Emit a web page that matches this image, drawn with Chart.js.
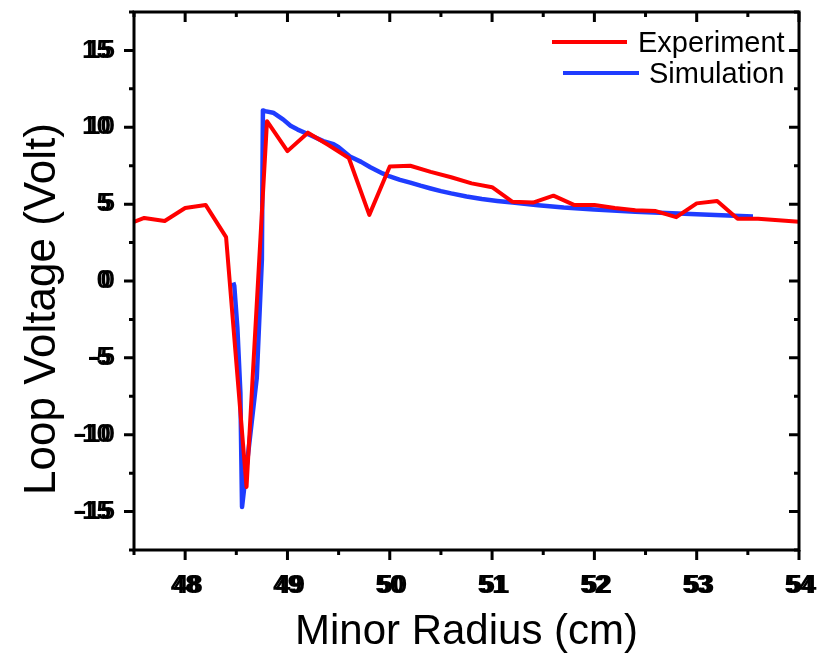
<!DOCTYPE html>
<html>
<head>
<meta charset="utf-8">
<script src="https://cdn.jsdelivr.net/npm/chart.js@4.4.0/dist/chart.umd.min.js"></script>
<style>html,body{margin:0;padding:0;background:#fff}</style>
</head>
<body>
<canvas id="loopChart" width="822" height="658"></canvas>
<script>
// values
const expRadius = [47.5, 47.6, 47.8, 48.0, 48.2, 48.4, 48.6, 48.8, 49.0, 49.2, 49.4, 49.6, 49.8, 50.0, 50.2, 50.4, 50.6, 50.8,
                   51.0, 51.2, 51.4, 51.6, 51.8, 52.0, 52.2, 52.4, 52.6, 52.8, 53.0, 53.2, 53.4, 53.6, 53.8, 54.0];
const expVoltage = [3.85, 4.1, 3.9, 4.75, 4.95, 2.85, -13.4, 10.4, 8.45, 9.65, 8.85, 8.0, 4.3, 7.45, 7.5, 7.1, 6.75, 6.35,
                    6.1, 5.15, 5.1, 5.55, 4.95, 4.95, 4.75, 4.6, 4.55, 4.15, 5.05, 5.2, 4.05, 4.05, 3.95, 3.85];

const simRadius = [48.47, 48.48, 48.51, 48.54, 48.556, 48.70, 48.75, 48.76, 48.78, 48.86, 48.96, 49.03, 49.10, 49.22,
                   49.35, 49.45, 49.50, 49.61, 49.72, 49.81, 49.93, 50.0, 50.1, 50.2, 50.3, 50.4, 50.5, 50.6, 50.75, 50.9,
                   51.05, 51.2, 51.45, 51.7, 52.0, 52.4, 53.0, 53.55];
const simVoltage = [-0.1, -0.3, -3.0, -7.3, -14.7, -6.3, 1.4, 11.1, 11.05, 10.95, 10.5, 10.1, 9.85, 9.5,
                    9.1, 8.9, 8.7, 8.1, 7.75, 7.4, 7.0, 6.8, 6.58, 6.4, 6.2, 6.02, 5.85, 5.7, 5.5, 5.34,
                    5.21, 5.1, 4.93, 4.78, 4.65, 4.5, 4.35, 4.2];

const xTicks = [48, 49, 50, 51, 52, 53, 54];
const yTicks = [-15, -10, -5, 0, 5, 10, 15];
const seriesNames = ['Experiment', 'Simulation'];
const seriesColors = ['#ff0000', '#1f3cff'];

const tickFont = {family: "'Liberation Sans', Arial, sans-serif", size: 26, weight: 'bold'};

function toPoints(xs, ys) {
    return xs.map((x, i) => ({x: x, y: ys[i]}));
}

function noPad(s) {
    s.paddingTop = 0; s.paddingBottom = 0; s.paddingLeft = 0; s.paddingRight = 0;
}

// origin-style box: thick frame, outward ticks left/bottom, inward ticks top/right, doubled tick labels
const framePlugin = {
    id: 'frame',
    afterDatasetsDraw(chart) {
        const ctx = chart.ctx;
        const a = chart.chartArea;
        const xs = chart.scales.x, ys = chart.scales.y;
        ctx.save();
        ctx.strokeStyle = '#000';
        ctx.lineWidth = 3;
        ctx.strokeRect(a.left, a.top, a.right - a.left, a.bottom - a.top);
        ctx.lineCap = 'butt';
        for (let v = 47.5; v <= 54.001; v += 0.5) {
            const px = xs.getPixelForValue(v);
            const len = Number.isInteger(v) ? 10 : 5;
            ctx.beginPath();
            ctx.moveTo(px, a.bottom); ctx.lineTo(px, a.bottom + len);
            ctx.moveTo(px, a.top); ctx.lineTo(px, a.top + len);
            ctx.stroke();
        }
        for (let v = -17.5; v <= 17.501; v += 2.5) {
            const py = ys.getPixelForValue(v);
            const len = v % 5 === 0 ? 10 : 5;
            ctx.beginPath();
            ctx.moveTo(a.left, py); ctx.lineTo(a.left - len, py);
            ctx.moveTo(a.right, py); ctx.lineTo(a.right - len, py);
            ctx.stroke();
        }
        ctx.restore();
    },
    afterDraw(chart) {
        const ctx = chart.ctx;
        const a = chart.chartArea;
        const xs = chart.scales.x, ys = chart.scales.y;
        ctx.save();
        ctx.fillStyle = '#000';
        ctx.font = 'bold 26px ' + tickFont.family;
        ctx.textBaseline = 'middle';
        ctx.textAlign = 'right';
        yTicks.forEach(v => ctx.fillText(String(v), a.left - 23 + 4, ys.getPixelForValue(v)));
        ctx.textAlign = 'center';
        xTicks.forEach(v => ctx.fillText(String(v), xs.getPixelForValue(v) + 3, a.bottom + 20 + 15.6));

        // y title
        ctx.font = '44px "Liberation Sans", Arial, sans-serif';
        ctx.textAlign = 'center';
        ctx.textBaseline = 'alphabetic';
        ctx.translate(55, 309);
        ctx.rotate(-Math.PI / 2);
        ctx.fillText('Loop Voltage (Volt)', 0, 0);
        ctx.restore();

        // legend
        ctx.save();
        ctx.font = '29px "Liberation Sans", Arial, sans-serif';
        ctx.textAlign = 'left';
        ctx.textBaseline = 'alphabetic';
        ctx.lineWidth = 4;
        const rows = [{x0: 552, x1: 627, y: 42, tx: 638, ty: 52}, {x0: 563, x1: 639, y: 73, tx: 649, ty: 83}];
        rows.forEach((r, i) => {
            ctx.strokeStyle = seriesColors[i];
            ctx.beginPath(); ctx.moveTo(r.x0, r.y); ctx.lineTo(r.x1, r.y); ctx.stroke();
            ctx.fillStyle = '#000';
            ctx.fillText(seriesNames[i], r.tx, r.ty);
        });
        ctx.restore();
    }
};

new Chart(document.getElementById('loopChart').getContext('2d'), {
    type: 'line',
    data: {
        datasets: [{
            label: seriesNames[0],
            data: toPoints(expRadius, expVoltage),
            borderColor: seriesColors[0],
            borderWidth: 4,
            pointRadius: 0,
            tension: 0,
            borderJoinStyle: 'round'
        }, {
            label: seriesNames[1],
            data: toPoints(simRadius, simVoltage),
            borderColor: seriesColors[1],
            borderWidth: 4.5,
            pointRadius: 0,
            tension: 0,
            borderJoinStyle: 'round'
        }]
    },
    options: {
        responsive: false,
        animation: false,
        layout: {padding: {top: 12, right: 23, left: 0, bottom: 0}},
        plugins: {legend: {display: false}, tooltip: {enabled: false}},
        scales: {
            x: {
                type: 'linear',
                min: 47.5,
                max: 54,
                afterBuildTicks: s => { s.ticks = xTicks.map(v => ({value: v})); },
                afterFit: s => { s.height = 108; noPad(s); },
                grid: {display: false, drawTicks: false},
                border: {display: false},
                ticks: {font: tickFont, color: '#000', padding: 20, maxRotation: 0},
                title: {
                    display: true,
                    text: 'Minor Radius (cm)',
                    color: '#000',
                    font: {family: "'Liberation Sans', Arial, sans-serif", size: 42},
                    padding: {top: 0, bottom: 0}
                }
            },
            y: {
                min: -17.5,
                max: 17.5,
                afterBuildTicks: s => { s.ticks = yTicks.map(v => ({value: v})); },
                afterFit: s => { s.width = 134; noPad(s); },
                grid: {display: false, drawTicks: false},
                border: {display: false},
                ticks: {font: tickFont, color: '#000', padding: 23}
            }
        }
    },
    plugins: [framePlugin]
});
</script>
</body>
</html>
